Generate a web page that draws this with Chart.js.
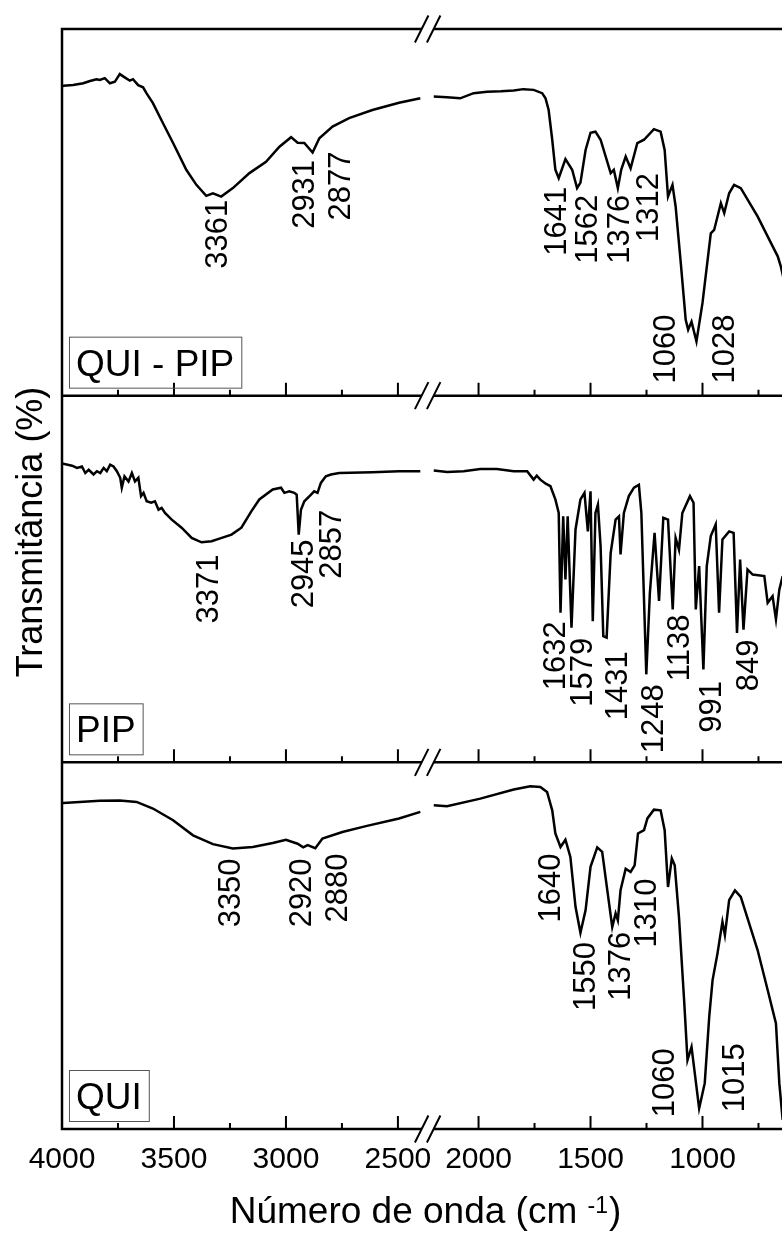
<!DOCTYPE html>
<html>
<head>
<meta charset="utf-8">
<script src="https://cdn.jsdelivr.net/npm/chart.js@4.4.1/dist/chart.umd.min.js"></script>
<style>
  html, body { margin: 0; padding: 0; background: #fff; }
  canvas { display: block; }
</style>
</head>
<body>
<canvas id="ftir" width="782" height="1233"></canvas>
<script>
// --- spectra (wavenumber cm-1, transmittance in arbitrary panel units 0-100) ---
const quiPipLeftWn = [4000, 3994, 3950, 3905, 3875, 3846, 3831, 3809, 3786, 3764, 3742, 3720, 3697, 3683, 3660, 3638, 3623, 3594, 3549, 3504, 3445, 3400, 3356, 3326, 3289, 3237, 3163, 3089, 3029, 2977, 2948, 2918, 2881, 2851, 2792, 2718, 2614, 2495, 2400];
const quiPipLeftT = [84.4, 84.5, 84.7, 85.2, 85.8, 86.3, 86.1, 86.6, 85.2, 85.6, 87.7, 86.8, 85.9, 86.3, 84.7, 84.1, 82.5, 79.8, 74.3, 68.9, 61.6, 57.5, 54.5, 55.2, 54.3, 56.6, 60.7, 63.8, 67.9, 70.5, 69.0, 68.9, 66.3, 70.2, 73.4, 75.7, 77.9, 79.9, 81.1];
const quiPipRightWn = [2200, 2141, 2082, 2022, 1962, 1900, 1843, 1800, 1754, 1716, 1701, 1687, 1671, 1657, 1642, 1612, 1582, 1560, 1545, 1522, 1500, 1478, 1455, 1410, 1396, 1378, 1363, 1343, 1321, 1291, 1261, 1217, 1187, 1169, 1154, 1134, 1120, 1097, 1075, 1064, 1049, 1027, 1000, 963, 948, 918, 903, 881, 859, 829, 754, 694, 664, 650, 640];
const quiPipRightT = [81.6, 81.4, 81.1, 82.5, 82.9, 83.0, 83.2, 83.6, 83.4, 82.5, 81.1, 77.9, 69.8, 61.6, 59.3, 64.5, 61.6, 56.6, 58.1, 67.0, 71.7, 72.0, 69.8, 60.7, 61.6, 56.6, 61.6, 65.2, 62.0, 68.9, 69.8, 72.7, 72.0, 67.0, 54.3, 57.5, 51.6, 36.2, 20.7, 18.0, 20.2, 14.8, 25.3, 44.3, 45.2, 52.5, 49.8, 55.2, 57.5, 56.6, 48.9, 41.6, 38.0, 35.2, 32.5];

const pipLeftWn = [4000, 3955, 3933, 3911, 3896, 3881, 3859, 3844, 3829, 3814, 3800, 3785, 3770, 3755, 3740, 3733, 3721, 3703, 3688, 3674, 3659, 3647, 3636, 3622, 3602, 3585, 3569, 3555, 3540, 3510, 3466, 3421, 3377, 3332, 3297, 3243, 3199, 3154, 3119, 3059, 3022, 3007, 2985, 2963, 2952, 2943, 2933, 2918, 2888, 2874, 2859, 2844, 2822, 2799, 2762, 2614, 2495, 2400];
const pipLeftT = [81.5, 80.9, 80.3, 80.7, 78.9, 79.8, 78.5, 79.4, 78.9, 80.3, 79.4, 81.2, 80.7, 79.4, 77.6, 74.9, 78.0, 76.6, 78.9, 76.6, 77.6, 72.6, 73.5, 71.2, 70.8, 71.2, 68.9, 69.4, 68.0, 66.2, 64.0, 61.2, 60.0, 60.3, 61.0, 62.1, 64.0, 68.5, 71.7, 74.4, 74.9, 73.5, 73.9, 73.5, 73.0, 62.1, 68.9, 71.2, 73.0, 73.9, 73.5, 76.2, 78.0, 78.5, 78.9, 79.1, 79.4, 79.4];
const pipRightWn = [2200, 2140, 2067, 1992, 1918, 1843, 1783, 1754, 1740, 1724, 1700, 1679, 1657, 1642, 1634, 1622, 1612, 1602, 1585, 1567, 1545, 1527, 1512, 1500, 1490, 1478, 1467, 1455, 1443, 1428, 1410, 1388, 1373, 1366, 1351, 1329, 1306, 1284, 1273, 1251, 1235, 1214, 1194, 1175, 1154, 1133, 1120, 1105, 1090, 1056, 1040, 1030, 1015, 996, 981, 963, 941, 926, 911, 881, 861, 846, 832, 817, 799, 776, 724, 709, 687, 672, 657, 642];
const pipRightT = [79.6, 79.2, 79.4, 80.0, 80.0, 79.4, 79.4, 77.1, 78.2, 77.1, 76.0, 75.3, 71.7, 68.0, 40.8, 67.1, 49.9, 67.1, 36.7, 63.5, 71.7, 73.5, 63.0, 73.9, 38.5, 68.0, 70.3, 58.9, 34.4, 34.0, 57.1, 66.2, 67.1, 56.7, 68.0, 72.6, 74.9, 75.7, 68.0, 24.0, 46.2, 62.6, 44.0, 66.7, 66.2, 41.7, 61.2, 58.0, 68.0, 72.6, 70.8, 41.7, 53.5, 25.3, 53.5, 61.7, 64.9, 40.8, 60.8, 63.0, 62.6, 35.3, 55.3, 36.2, 52.6, 51.2, 50.8, 43.5, 45.3, 39.0, 47.1, 50.8];

const quiLeftWn = [4000, 3994, 3831, 3742, 3667, 3594, 3504, 3415, 3326, 3237, 3148, 3059, 3000, 2948, 2923, 2903, 2869, 2837, 2748, 2643, 2495, 2400];
const quiLeftT = [88.9, 88.9, 89.5, 89.6, 89.2, 87.4, 84.2, 80.1, 77.7, 76.5, 76.9, 78.0, 78.9, 77.8, 76.8, 77.4, 76.6, 79.2, 81.0, 82.6, 84.7, 86.5];
const quiRightWn = [2200, 2141, 1992, 1843, 1769, 1724, 1694, 1671, 1657, 1634, 1612, 1590, 1567, 1545, 1522, 1500, 1470, 1448, 1425, 1403, 1388, 1378, 1366, 1343, 1321, 1303, 1288, 1261, 1246, 1217, 1187, 1169, 1154, 1137, 1124, 1105, 1082, 1067, 1049, 1015, 990, 970, 955, 933, 911, 900, 881, 855, 829, 754, 709, 672, 657, 642];
const quiRightT = [88.3, 88.0, 90.1, 92.6, 93.5, 93.3, 91.9, 86.9, 80.6, 76.9, 78.9, 74.2, 60.6, 53.5, 59.7, 71.5, 76.8, 75.6, 65.1, 55.1, 58.8, 56.9, 65.1, 71.0, 70.1, 71.9, 80.6, 81.5, 84.7, 87.1, 86.9, 81.5, 66.0, 73.8, 71.9, 57.8, 35.1, 18.8, 22.4, 5.6, 12.5, 30.6, 40.6, 47.9, 56.5, 52.9, 62.4, 65.1, 63.3, 48.8, 37.9, 28.8, 12.5, 2.5];

// --- axis tick labels ---
const leftTicks = [4000, 3500, 3000, 2500];
const rightTicks = [2000, 1500, 1000];

// --- peak annotations ---
const peaksQuiPip = [3361, 2931, 2877, 1641, 1562, 1376, 1312, 1060, 1028];
const peaksPip = [3371, 2945, 2857, 1632, 1579, 1431, 1248, 1138, 991, 849];
const peaksQui = [3350, 2920, 2880, 1640, 1550, 1376, 1310, 1060, 1015];
const panelNames = ['QUI - PIP', 'PIP', 'QUI'];

// where each peak label ends (wavenumber of its centre, panel value of its top)
const quiPipLabelAt = [[3311, 53.4], [2926, 64.3], [2762, 66.6], [1657, 57.0], [1519, 54.8], [1377, 54.8], [1250, 60.7], [1172, 22.1], [910, 22.1]];
const pipLabelAt = [[3352, 56.7], [2929, 60.8], [2803, 68.9], [1664, 38.5], [1541, 34.0], [1385, 30.3], [1228, 21.3], [1108, 40.3], [967, 22.2], [803, 33.5]];
const quiLabelAt = [[3256, 73.8], [2937, 73.8], [2777, 75.1], [1684, 75.1], [1530, 51.0], [1373, 53.8], [1258, 68.3], [1176, 22.0], [866, 23.4]];

const FONT = "'Liberation Sans', Arial, sans-serif";
const LEFT_RANGE = [2365, 4000];
const RIGHT_RANGE = [645, 2225];

const pts = (wn, t) => wn.map((x, i) => ({ x, y: t[i] }));
const line = (wn, t, xId, yId) => ({
  data: pts(wn, t), xAxisID: xId, yAxisID: yId,
  borderColor: '#000', borderWidth: 2.5, pointRadius: 0, fill: false, tension: 0
});

const xAxis = (range, tickValues) => ({
  type: 'linear', position: 'bottom', stack: 'x', stackWeight: range[1] - range[0],
  reverse: true, min: range[0], max: range[1],
  grid: { display: false, drawTicks: false },
  border: { display: false },
  ticks: {
    autoSkip: false, maxRotation: 0, color: '#000', padding: 13,
    font: { family: FONT, size: 30 },
    callback: (v) => String(v)
  },
  afterBuildTicks: (s) => { s.ticks = tickValues.map(v => ({ value: v })); },
  afterFit: (s) => { s.height = 104; s.paddingLeft = 0; s.paddingRight = 0; }
});
const yAxis = (w) => ({ type: 'linear', position: 'left', stack: 'y', weight: w, min: 0, max: 100, display: false });

function drawPeaks(ctx, chart, peaks, anchors, yId) {
  const ys = chart.scales[yId];
  const size = 31;
  ctx.font = size + 'px ' + FONT;
  ctx.fillStyle = '#000';
  peaks.forEach((p, i) => {
    const [wn, top] = anchors[i];
    const xs = wn > 2300 ? chart.scales.x1 : chart.scales.x2;
    const px = xs.getPixelForValue(wn);
    const py = ys.getPixelForValue(top);
    ctx.save();
    ctx.translate(px + size * 0.358, py);
    ctx.rotate(-Math.PI / 2);
    ctx.textAlign = 'right';
    ctx.textBaseline = 'alphabetic';
    ctx.fillText(String(p), 0, 0);
    ctx.restore();
  });
}

const decorations = {
  id: 'decorations',
  afterDraw(chart) {
    const { ctx, chartArea: a, scales } = chart;
    const panels = [scales.y1, scales.y2, scales.y3];
    const edges = [scales.y1.top, scales.y1.bottom, scales.y2.bottom, scales.y3.bottom];
    ctx.save();

    // frame
    ctx.strokeStyle = '#000';
    ctx.lineWidth = 2.5;
    ctx.beginPath();
    ctx.moveTo(a.left, a.top - 1.25);
    ctx.lineTo(a.left, a.bottom + 1.25);
    edges.forEach(y => { ctx.moveTo(a.left, y); ctx.lineTo(a.right, y); });
    ctx.stroke();

    // inward ticks on the bottom edge of each panel
    ctx.lineWidth = 2;
    ctx.beginPath();
    panels.forEach(p => {
      [scales.x1, scales.x2].forEach(xs => {
        for (let v = Math.ceil(xs.min / 250) * 250; v <= xs.max; v += 250) {
          if (v >= 4000) continue;
          const px = xs.getPixelForValue(v);
          const len = v % 500 === 0 ? 13 : 6;
          ctx.moveTo(px, p.bottom);
          ctx.lineTo(px, p.bottom - len);
        }
      });
    });
    ctx.stroke();

    // axis break marks
    const cx = scales.x1.right - 0.5;
    edges.forEach(y => {
      ctx.fillStyle = '#fff';
      ctx.beginPath();
      ctx.moveTo(cx - 6 - 6.75, y + 13.5);
      ctx.lineTo(cx + 6 - 6.75, y + 13.5);
      ctx.lineTo(cx + 6 + 6.75, y - 13.5);
      ctx.lineTo(cx - 6 + 6.75, y - 13.5);
      ctx.closePath();
      ctx.fill();
      ctx.beginPath();
      [-6, 6].forEach(d => {
        ctx.moveTo(cx + d - 6.75, y + 13.5);
        ctx.lineTo(cx + d + 6.75, y - 13.5);
      });
      ctx.lineWidth = 2;
      ctx.stroke();
    });

    // panel name boxes
    ctx.font = '37px ' + FONT;
    panels.forEach((p, i) => {
      const w = ctx.measureText(panelNames[i]).width + 14;
      const left = a.left + 7, bottom = p.bottom - 8;
      ctx.strokeStyle = '#555';
      ctx.lineWidth = 1;
      ctx.strokeRect(left + 0.5, bottom - 51 + 0.5, w, 51);
      ctx.fillStyle = '#000';
      ctx.textAlign = 'left';
      ctx.textBaseline = 'alphabetic';
      ctx.fillText(panelNames[i], left + 7, bottom - 12);
    });

    // peak labels
    drawPeaks(ctx, chart, peaksQuiPip, quiPipLabelAt, 'y1');
    drawPeaks(ctx, chart, peaksPip, pipLabelAt, 'y2');
    drawPeaks(ctx, chart, peaksQui, quiLabelAt, 'y3');

    // x title with superscript
    ctx.fillStyle = '#000';
    ctx.textAlign = 'left';
    ctx.textBaseline = 'alphabetic';
    const big = '37px ' + FONT, small = '23px ' + FONT;
    const t1 = 'Número de onda (cm ', t2 = '-1', t3 = ')';
    ctx.font = big; const w1 = ctx.measureText(t1).width, w3 = ctx.measureText(t3).width;
    ctx.font = small; const w2 = ctx.measureText(t2).width;
    let x = (a.left + a.right) / 2 + 3 - (w1 + w2 + w3) / 2;
    const base = a.bottom + 94;
    ctx.font = big; ctx.fillText(t1, x, base); x += w1;
    ctx.font = small; ctx.fillText(t2, x, base - 10); x += w2;
    ctx.font = big; ctx.fillText(t3, x + 1, base);

    // y title
    ctx.font = '36px ' + FONT;
    const yt = 'Transmitância (%)';
    const yw = ctx.measureText(yt).width;
    ctx.translate(42, (a.top + a.bottom) / 2 - 47 + yw / 2);
    ctx.rotate(-Math.PI / 2);
    ctx.fillText(yt, 0, 0);
    ctx.restore();
  }
};

new Chart(document.getElementById('ftir').getContext('2d'), {
  type: 'line',
  data: {
    datasets: [
      line(quiPipLeftWn, quiPipLeftT, 'x1', 'y1'),
      line(quiPipRightWn, quiPipRightT, 'x2', 'y1'),
      line(pipLeftWn, pipLeftT, 'x1', 'y2'),
      line(pipRightWn, pipRightT, 'x2', 'y2'),
      line(quiLeftWn, quiLeftT, 'x1', 'y3'),
      line(quiRightWn, quiRightT, 'x2', 'y3')
    ]
  },
  options: {
    responsive: false,
    animation: false,
    layout: { padding: { left: 62, right: 0, top: 29, bottom: 0 } },
    plugins: { legend: { display: false }, tooltip: { enabled: false } },
    scales: {
      x1: xAxis(LEFT_RANGE, leftTicks),
      x2: xAxis(RIGHT_RANGE, rightTicks),
      y1: yAxis(3),
      y2: yAxis(2),
      y3: yAxis(1)
    }
  },
  plugins: [decorations]
});
</script>
</body>
</html>
